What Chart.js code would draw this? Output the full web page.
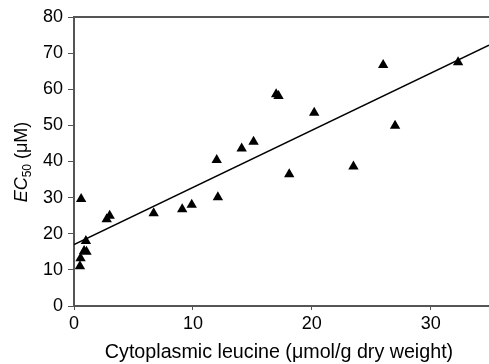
<!DOCTYPE html>
<html>
<head>
<meta charset="utf-8">
<script src="https://cdn.jsdelivr.net/npm/chart.js@4.4.0/dist/chart.umd.min.js"></script>
<style>
  html, body { margin: 0; padding: 0; background: #fff; }
  #wrap { width: 489px; height: 364px; }
</style>
</head>
<body>
<div id="wrap"><canvas id="scatterChart" width="489" height="364"></canvas></div>
<script>
// cytoplasmic leucine (umol/g dry weight) vs EC50 (uM)
const leucine = [0.5, 0.55, 0.6, 0.85, 1.05, 1.0, 2.75, 3.0, 6.7, 9.1, 9.9, 12.1, 12.0, 14.1, 15.1, 17.0, 17.2, 18.1, 20.2, 23.5, 26.0, 27.0, 32.3];
const ec50 = [11, 13.2, 29.6, 15.2, 15, 18, 24, 25, 25.7, 26.8, 28, 30.1, 40.4, 43.6, 45.5, 58.6, 58.1, 36.5, 53.5, 38.6, 66.7, 49.9, 67.5];

// regression line end points
const fitX = [0, 34.9];
const fitY = [17.0, 72.2];

const xTicks = [0, 10, 20, 30];
const yTicks = [0, 10, 20, 30, 40, 50, 60, 70, 80];

const points = leucine.map((x, i) => ({ x: x, y: ec50[i] }));
const fitLine = fitX.map((x, i) => ({ x: x, y: fitY[i] }));

const FONT = 'Liberation Sans, Arial, sans-serif';

// axis titles and the top border line
const decor = {
    id: 'decor',
    afterDraw(chart) {
        const c = chart.ctx;
        const a = chart.chartArea;
        c.save();
        c.strokeStyle = '#555';
        c.lineWidth = 2;
        c.beginPath();
        c.moveTo(a.left, a.top);
        c.lineTo(chart.width, a.top);
        c.stroke();

        c.fillStyle = '#000';
        c.textBaseline = 'alphabetic';
        c.textAlign = 'center';
        c.font = '19.7px ' + FONT;
        c.fillText('Cytoplasmic leucine (\u03bcmol/g dry weight)', 279, 358);

        // y title: EC50 (uM), rotated
        c.translate(27, 162);
        c.rotate(-Math.PI / 2);
        c.textAlign = 'left';
        const p1 = 'EC', p2 = '50', p3 = ' (\u03bcM)';
        c.font = 'italic 18px ' + FONT;
        const w1 = c.measureText(p1).width;
        c.font = '12px ' + FONT;
        const w2 = c.measureText(p2).width;
        c.font = '18px ' + FONT;
        const w3 = c.measureText(p3).width;
        let x = -(w1 + w2 + w3) / 2;
        c.font = 'italic 18px ' + FONT;
        c.fillText(p1, x, 0);
        x += w1;
        c.font = '12px ' + FONT;
        c.fillText(p2, x, 4);
        x += w2;
        c.font = '18px ' + FONT;
        c.fillText(p3, x, 0);
        c.restore();
    }
};

new Chart(document.getElementById('scatterChart'), {
    type: 'scatter',
    data: {
        datasets: [{
            data: points,
            pointStyle: 'triangle',
            pointRadius: 6,
            pointBackgroundColor: '#000',
            pointBorderWidth: 0,
            pointHoverRadius: 6
        }, {
            type: 'line',
            data: fitLine,
            borderColor: '#000',
            borderWidth: 1.5,
            pointRadius: 0,
            fill: false
        }]
    },
    options: {
        responsive: false,
        animation: false,
        layout: { autoPadding: false, padding: { top: 17, right: 0, left: 0, bottom: 0 } },
        plugins: {
            legend: { display: false },
            tooltip: { enabled: false }
        },
        scales: {
            x: {
                type: 'linear',
                min: 0,
                max: 34.9,
                afterBuildTicks: (s) => { s.ticks = xTicks.map(v => ({ value: v })); },
                afterFit: (s) => { s.height = 58; s.paddingLeft = 0; s.paddingRight = 0; },
                grid: { drawOnChartArea: false, tickLength: 4, color: '#555' },
                border: { color: '#555', width: 2 },
                ticks: { color: '#000', padding: 3, font: { size: 18, family: FONT } }
            },
            y: {
                min: 0,
                max: 80,
                afterBuildTicks: (s) => { s.ticks = yTicks.map(v => ({ value: v })); },
                afterFit: (s) => { s.width = 74; s.paddingTop = 0; s.paddingBottom = 0; },
                grid: { drawOnChartArea: false, tickLength: 6, color: '#555' },
                border: { color: '#555', width: 2 },
                ticks: { color: '#000', padding: 5, font: { size: 18, family: FONT } }
            }
        }
    },
    plugins: [decor]
});
</script>
</body>
</html>
